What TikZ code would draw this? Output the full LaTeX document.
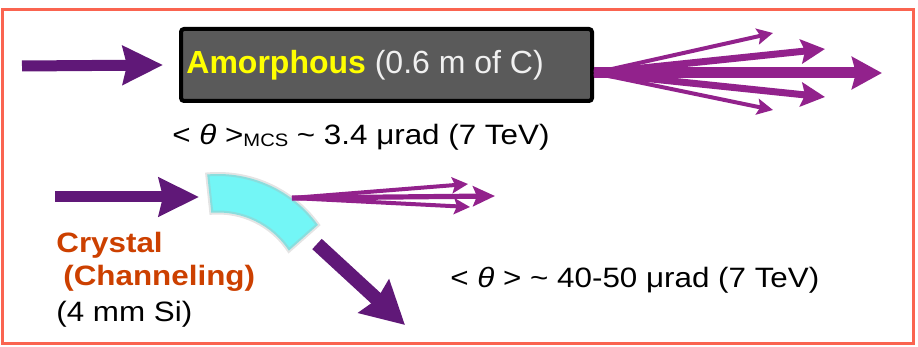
\documentclass[tikz,border=0pt]{standalone}
\usepackage{fontspec}
\setmainfont{Liberation Sans}
\usepackage{graphicx}
\usetikzlibrary{positioning, arrows.meta, calc}
\definecolor{framecoral}{RGB}{250, 100, 80}
\definecolor{beampurple}{RGB}{96, 24, 120}
\definecolor{scatmagenta}{RGB}{146, 34, 140}
\definecolor{crystalcyan}{RGB}{115, 246, 246}
\definecolor{crystalred}{RGB}{204, 64, 0}
\definecolor{carbongrey}{RGB}{90, 90, 90}
\definecolor{amorphyellow}{RGB}{255, 255, 0}
\newcommand{\wider}[1]{\scalebox{1.12}[1]{#1}}

\begin{document}
\begin{tikzpicture}[
    x=0.5pt, y=-0.5pt,
    target/.style={
      draw=black, line width=2pt, fill=carbongrey, rounded corners=1.5pt,
      minimum width=205.5pt, minimum height=36pt, inner sep=0pt
    },
    targettxt/.style={font=\fontsize{16}{18}\selectfont, inner sep=0pt, white!94!black},
    lbl/.style={font=\fontsize{14}{16}\selectfont, inner sep=0pt, anchor=base west},
    crylbl/.style={lbl, font=\fontsize{14}{16}\selectfont\bfseries, crystalred},
    beam/.style={-{Stealth[length=20pt, width=19pt, inset=2pt]}, line width=5.5pt, beampurple},
    bent/.style={-{Stealth[length=21pt, width=22pt, inset=2pt]}, line width=7pt, beampurple},
    fanthick/.style={-{Stealth[length=15pt, width=16pt, inset=2pt]}, line width=5.5pt, scatmagenta},
    fanmid/.style={-{Stealth[length=12pt, width=12pt, inset=2pt]}, line width=3.5pt, scatmagenta},
    fanthin/.style={-{Stealth[length=8pt, width=8pt, inset=1.5pt]}, line width=2pt, scatmagenta},
    chanwide/.style={-{Stealth[length=11pt, width=10pt, inset=2pt]}, line width=2.6pt, scatmagenta},
    chanthin/.style={-{Stealth[length=8pt, width=8pt, inset=1.5pt]}, line width=2pt, scatmagenta},
]
    \useasboundingbox (0,0) rectangle (918,347);
    \draw[framecoral, line width=1.5pt] (2,10) rectangle (913,344);

    % Amorphous target
    \node[target] (amorph) at (386.5,65) {};
    \node[targettxt, right=3.5pt of amorph.west] (amorphlbl)
      {{\bfseries\color{amorphyellow}Amorphous} (0.6 m of C)};
    \node[lbl] (mcs) at (172,145)
      {\wider{< {\itshape θ} >\raisebox{-1pt}{\fontsize{9}{10}\selectfont MCS} \textasciitilde{} 3.4 μrad (7 TeV)}};

    \coordinate (src1) at (22,66);
    \coordinate (fan) at ([yshift=-4pt]amorph.east);
    \coordinate (f1) at (773,33);
    \coordinate (f2) at (825,49);
    \coordinate (f3) at (882,73);
    \coordinate (f4) at (825,97);
    \coordinate (f5) at (773,110);

    \draw[beam] (src1) -- ([xshift=-8pt]amorph.west);
    \draw[fanthin] (fan) -- (f1);
    \draw[fanmid] (fan) -- (f2);
    \draw[fanthick] (fan) -- (f3);
    \draw[fanmid] (fan) -- (f4);
    \draw[fanthin] (fan) -- (f5);

    % Bent crystal
    \coordinate (cry) at (218,297.5);
    \path[fill=crystalcyan] ([shift={(-95:123.5)}]cry)
      arc[start angle=-95, end angle=-36, radius=123.5]
      -- ([shift={(-33.5:85)}]cry)
      arc[start angle=-33.5, end angle=-94.5, radius=85] -- cycle;
    \draw[black!30, line width=2pt, opacity=0.35] ([shift={(-95:123.5)}]cry)
      arc[start angle=-95, end angle=-36, radius=123.5]
      -- ([shift={(-33.5:85)}]cry)
      arc[start angle=-33.5, end angle=-94.5, radius=85] -- cycle;

    \coordinate (src2) at (55,197);
    \coordinate (crin) at (199,197);
    \coordinate (crout) at (292,198);
    \coordinate (c1) at (468,184);
    \coordinate (c2) at (495,196);
    \coordinate (c3) at (470,207);
    \coordinate (crdef) at (317,244);
    \coordinate (d1) at (405,325);

    \draw[beam] (src2) -- (crin);
    \draw[chanthin] (crout) -- (c1);
    \draw[chanwide] (crout) -- (c2);
    \draw[chanthin] (crout) -- (c3);
    \draw[bent] (crdef) -- (d1);

    % Crystal labels
    \node[crylbl] (crystal) at (56,253) {\wider{Crystal}};
    \node[crylbl] (channel) at (63,286) {\wider{(Channeling)}};
    \node[lbl] (silicon) at (56,322) {\wider{(4 mm Si)}};
    \node[lbl] (chanang) at (450,288)
      {\wider{< {\itshape θ} > \textasciitilde{} 40-50 μrad (7 TeV)}};
\end{tikzpicture}
\end{document}
